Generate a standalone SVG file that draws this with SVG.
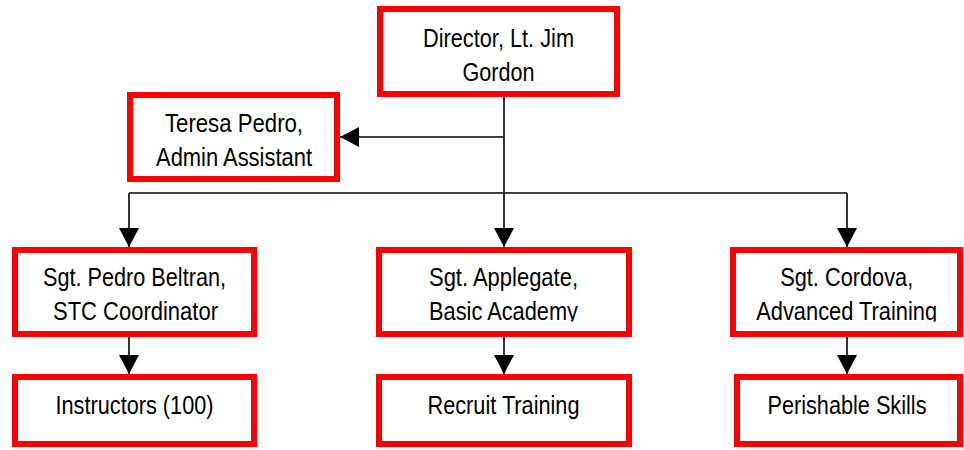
<svg xmlns="http://www.w3.org/2000/svg" width="964" height="450" viewBox="0 0 964 450">
<style>
.box{fill:#fff;stroke:#ff0000;stroke-width:6}
.t{font-family:"Liberation Sans Narrow","Liberation Sans",Arial,sans-serif;font-size:25px;fill:#000;text-anchor:middle}
.c{fill:none;stroke:#000;stroke-width:1.6}
</style>
<defs>
<marker id="ah" markerUnits="userSpaceOnUse" markerWidth="20" markerHeight="20" refX="19" refY="10" orient="auto" viewBox="0 0 20 20">
<path d="M0,0 L19,10 L0,20 Z" fill="#000"/>
</marker>
<clipPath id="clipRow"><rect x="0" y="0" width="964" height="321.5"/></clipPath>
</defs>
<rect width="964" height="450" fill="#fff"/>
<g id="connectors">
<path class="c" d="M504,96 V247" marker-end="url(#ah)"/>
<path class="c" d="M504,137 H340" marker-end="url(#ah)"/>
<path class="c" d="M129,193 H847"/>
<path class="c" d="M129,193 V247" marker-end="url(#ah)"/>
<path class="c" d="M847,193 V247" marker-end="url(#ah)"/>
<path class="c" d="M129,337 V374" marker-end="url(#ah)"/>
<path class="c" d="M504,337 V374" marker-end="url(#ah)"/>
<path class="c" d="M847,337 V374" marker-end="url(#ah)"/>
</g>
<g id="director">
<rect class="box" x="380" y="9" width="237" height="85"/>
<text class="t" x="498.5" y="47" textLength="151" lengthAdjust="spacingAndGlyphs">Director, Lt. Jim</text>
<text class="t" x="498.5" y="81" textLength="72" lengthAdjust="spacingAndGlyphs">Gordon</text>
</g>
<g id="teresa">
<rect class="box" x="130" y="95" width="207" height="84"/>
<text class="t" x="234" y="131.5" textLength="138" lengthAdjust="spacingAndGlyphs">Teresa Pedro,</text>
<text class="t" x="234" y="165.5" textLength="156" lengthAdjust="spacingAndGlyphs">Admin Assistant</text>
</g>
<g id="beltran">
<rect class="box" x="15" y="250" width="239" height="84"/>
<text class="t" x="134.5" y="286" textLength="183" lengthAdjust="spacingAndGlyphs">Sgt. Pedro Beltran,</text>
<text class="t" x="135.5" y="320" textLength="165" lengthAdjust="spacingAndGlyphs">STC Coordinator</text>
</g>
<g id="applegate">
<rect class="box" x="379" y="250" width="250" height="84"/>
<g clip-path="url(#clipRow)">
<text class="t" x="503.5" y="286" textLength="149" lengthAdjust="spacingAndGlyphs">Sgt. Applegate,</text>
<text class="t" x="503.5" y="320" textLength="149" lengthAdjust="spacingAndGlyphs">Basic Academy</text>
</g>
</g>
<g id="cordova">
<rect class="box" x="733" y="250" width="227" height="84"/>
<g clip-path="url(#clipRow)">
<text class="t" x="846.7" y="286" textLength="133" lengthAdjust="spacingAndGlyphs">Sgt. Cordova,</text>
<text class="t" x="846.7" y="320" textLength="181" lengthAdjust="spacingAndGlyphs">Advanced Training</text>
</g>
</g>
<g id="instructors">
<rect class="box" x="15" y="377" width="239" height="67"/>
<text class="t" x="134.5" y="413.5" textLength="158" lengthAdjust="spacingAndGlyphs">Instructors (100)</text>
</g>
<g id="recruit">
<rect class="box" x="379" y="377" width="250" height="67"/>
<text class="t" x="503.5" y="413.5" textLength="152" lengthAdjust="spacingAndGlyphs">Recruit Training</text>
</g>
<g id="perishable">
<rect class="box" x="737" y="377" width="223" height="67"/>
<text class="t" x="847" y="413.5" textLength="159" lengthAdjust="spacingAndGlyphs">Perishable Skills</text>
</g>
</svg>
